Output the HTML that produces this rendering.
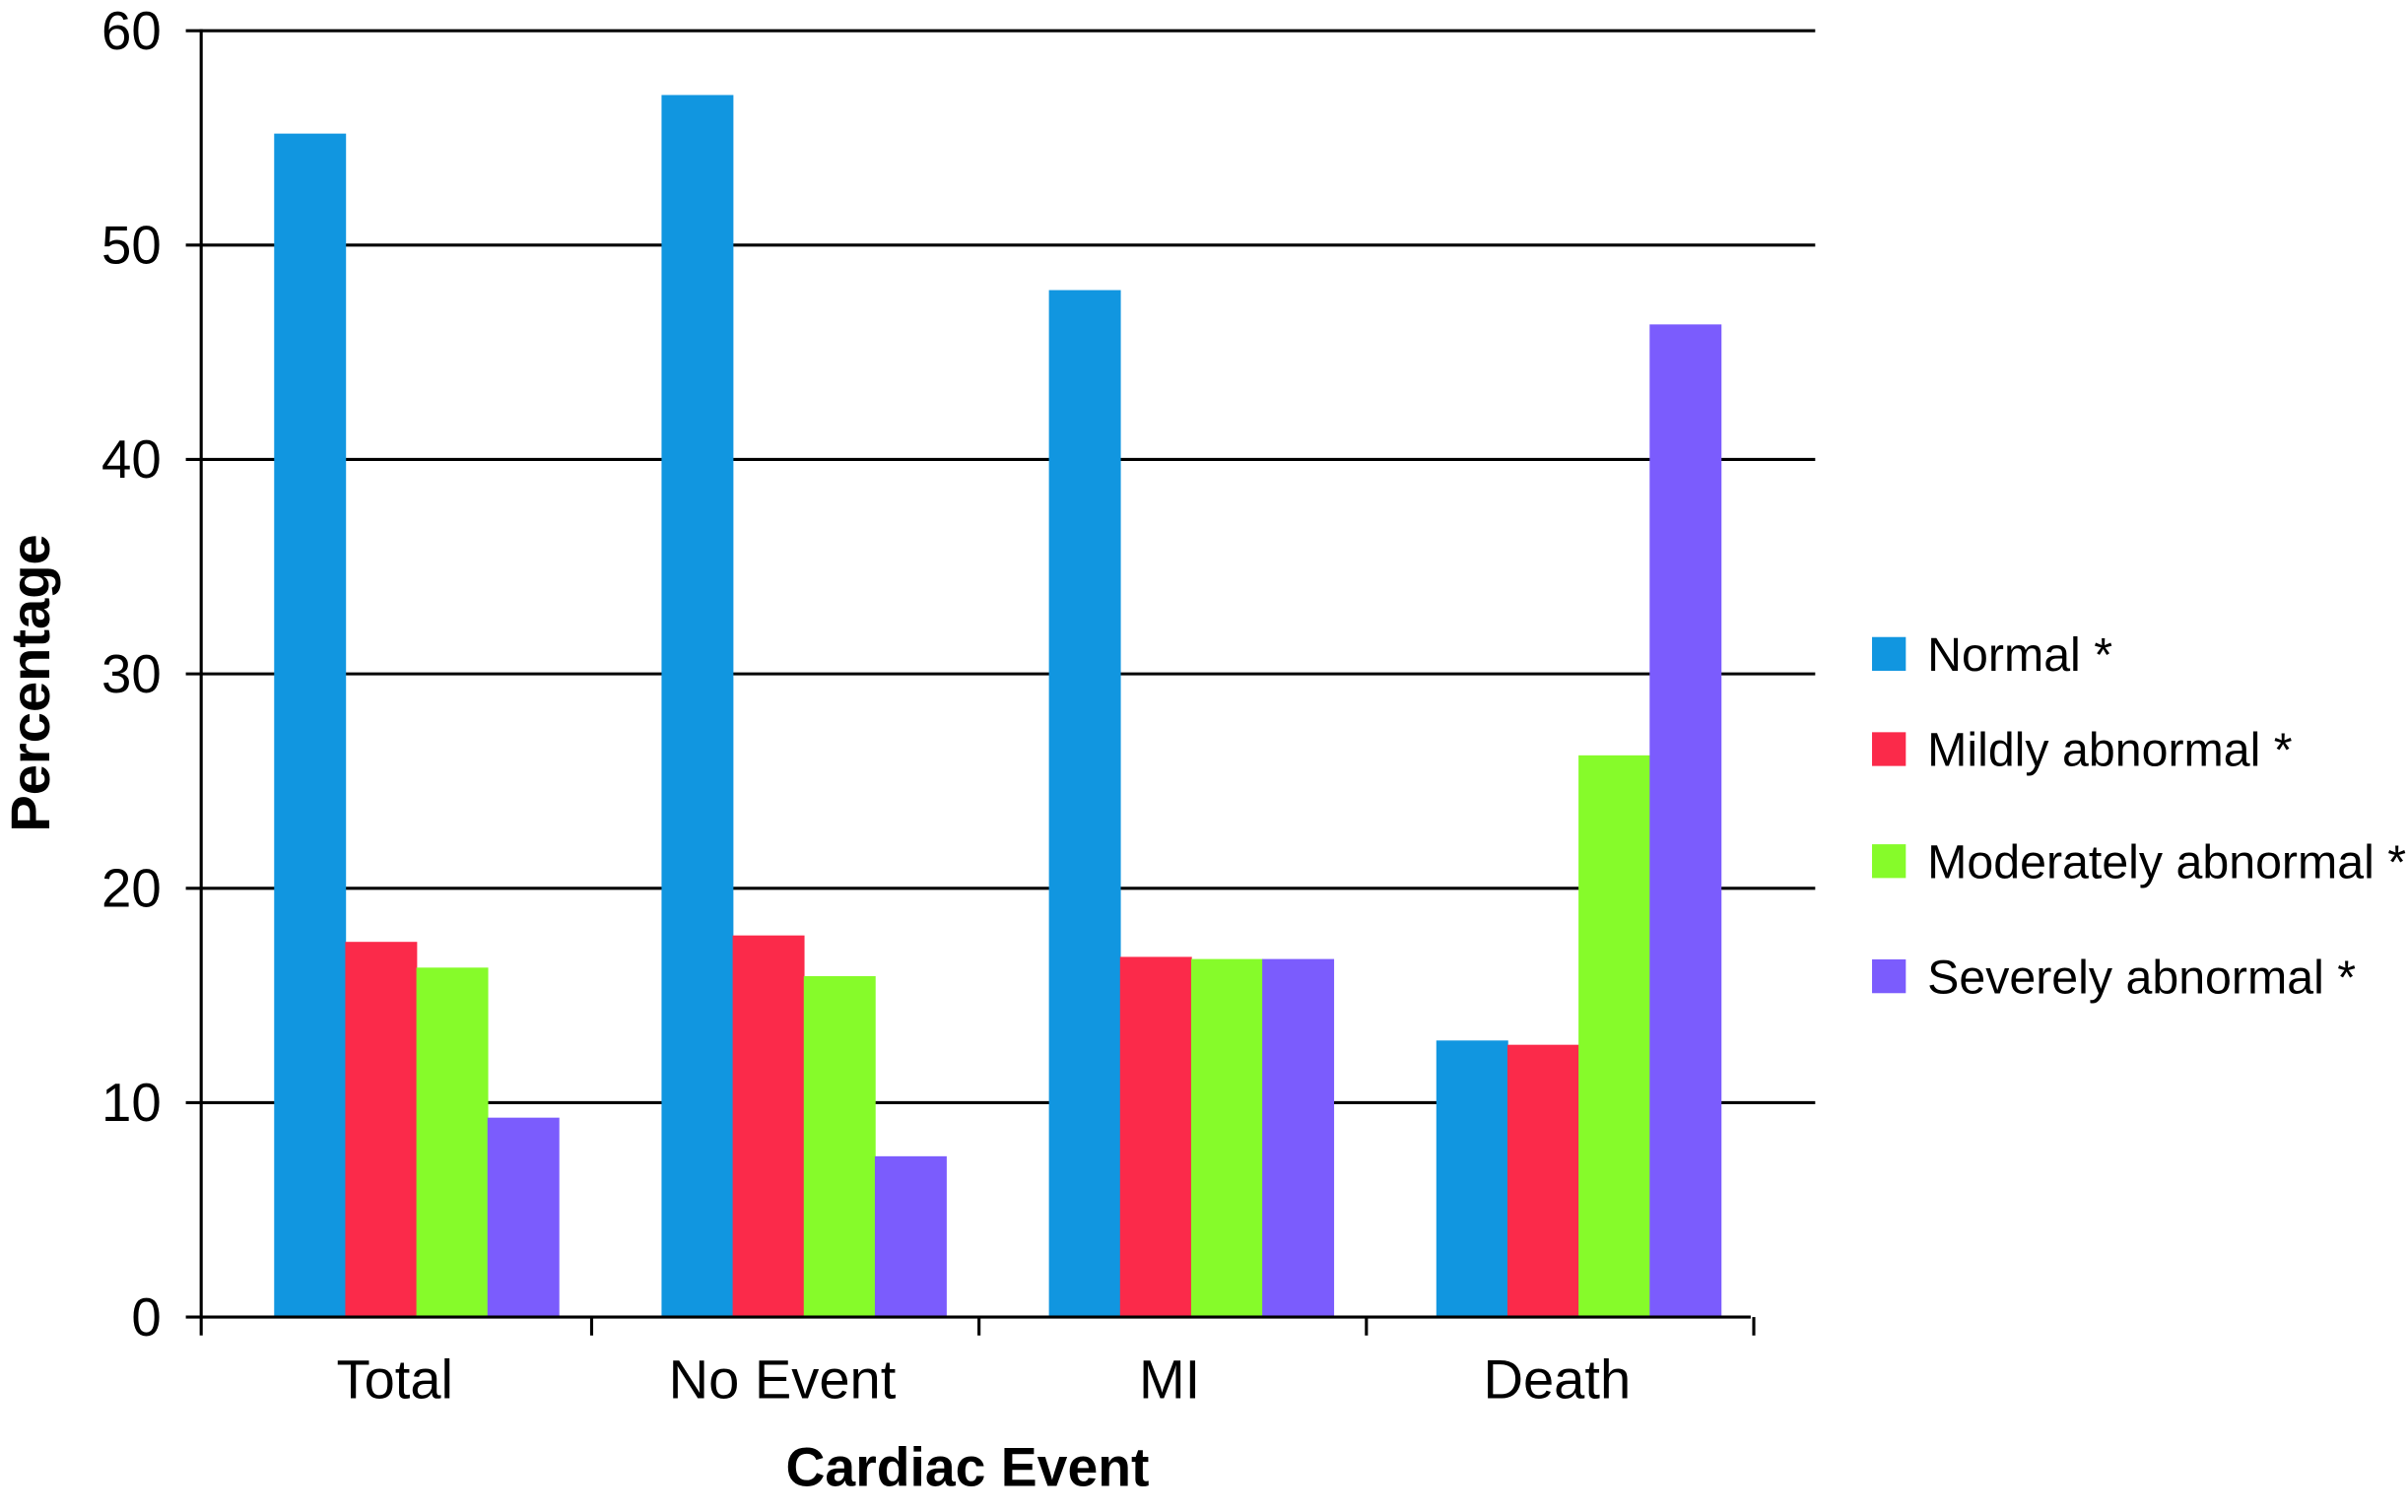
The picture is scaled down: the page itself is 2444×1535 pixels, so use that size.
<!DOCTYPE html>
<html><head><meta charset="utf-8"><style>
html,body{margin:0;padding:0;background:#fff}
svg{display:block}
text{font-family:"Liberation Sans",Arial,sans-serif;fill:#000}
</style></head><body>
<svg id="chart" width="2444" height="1535" viewBox="0 0 1568 985" preserveAspectRatio="none" xmlns="http://www.w3.org/2000/svg">
<g id="grid"></g><g id="bars"></g><g id="axes"></g><g id="legend"></g>
<text x="630" y="968" font-size="35.5" font-weight="bold" text-anchor="middle">Cardiac Event</text>
<text transform="translate(32,445) rotate(-90)" font-size="36" font-weight="bold" text-anchor="middle">Percentage</text>
</svg>
<script>
const categories=["Total","No Event","MI","Death"];
const seriesNames=["Normal *","Mildly abnormal *","Moderately abnormal *","Severely abnormal *"];
const normal=[55.2,57.0,47.9,12.9];
const mild=[17.5,17.8,16.8,12.7];
const moderate=[16.3,15.9,16.7,26.2];
const severe=[9.3,7.5,16.7,46.3];
const yTicks=[0,10,20,30,40,50,60];
const series=[normal,mild,moderate,severe];
const colors=["#1196e0","#fb2a4a","#86fb2a","#7b5cfd"];
const NS="http://www.w3.org/2000/svg";
const x0=131,x1=1140,yTop=20,yBot=858,yMax=60;
const y=v=>yBot-(v/yMax)*(yBot-yTop);
const catW=(x1-x0)/categories.length;
const barW=46.3;
function mk(tag,attrs,parent){const e=document.createElementNS(NS,tag);for(const k in attrs)e.setAttribute(k,attrs[k]);parent.appendChild(e);return e;}
const grid=document.getElementById('grid'),bars=document.getElementById('bars'),axes=document.getElementById('axes'),legend=document.getElementById('legend');
yTicks.forEach(t=>{
  const l=mk('line',{x1:121,x2:t===0?x1:1182,y1:y(t),y2:y(t),stroke:'#000','stroke-width':2},t===0?axes:grid);
  
  
  const tx=mk('text',{x:105,y:y(t)+12,'font-size':35,'text-anchor':'end'},axes);
  tx.textContent=t;
  
  
});
const ya=mk('line',{x1:x0,x2:x0,y1:yTop-1,y2:870,stroke:'#000','stroke-width':2},axes);


for(let i=1;i<=categories.length;i++){
  const tk=mk('line',{x1:x0+i*catW+2,x2:x0+i*catW+2,y1:yBot,y2:870,stroke:'#000','stroke-width':2},axes);
  
  
}
categories.forEach((c,i)=>{
  const cx=x0+i*catW+catW/2;
  const gs=cx+14-2*barW;
  series.forEach((s,j)=>{
    const r=mk('rect',{x:gs+j*barW,y:y(s[i]),width:barW+0.5,height:yBot-y(s[i]),fill:colors[j]},bars);
    
    
  });
  const t=mk('text',{x:cx,y:911,'font-size':36,'text-anchor':'middle'},axes);
  t.textContent=c;
  
  
});
const ly=[426,488,561,636];
seriesNames.forEach((n,j)=>{
  const r=mk('rect',{x:1219,y:ly[j]-11,width:22,height:22,fill:colors[j]},legend);
  
  
  const t=mk('text',{x:1255,y:ly[j]+11,'font-size':31},legend);
  t.textContent=n;
  
  
});
</script>
</body></html>
